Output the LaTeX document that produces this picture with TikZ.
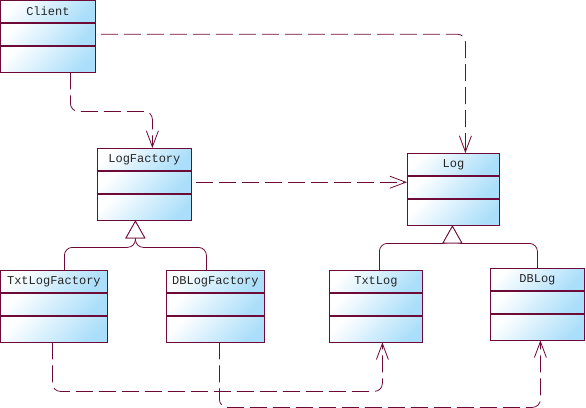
\documentclass[tikz,border=0pt]{standalone}
\usepackage{fontspec}
\setmonofont{Liberation Mono}
\usetikzlibrary{arrows.meta, positioning}

\definecolor{umlline}{RGB}{110,10,55}
\definecolor{umlblue}{RGB}{170,222,250}

\begin{document}
\begin{tikzpicture}[
    x=1pt, y=1pt,
    font=\ttfamily\fontsize{12}{14}\selectfont,
    line width=0.8pt,
    classhead/.style={rectangle, draw=umlline, left color=white, right color=umlblue, shading angle=45, minimum height=22pt, inner sep=0pt, anchor=north west, text=black!85},
    classpart/.style={rectangle, draw=umlline, left color=white, right color=umlblue, shading angle=45, minimum height=22pt, inner sep=0pt},
    depend/.style={draw=umlline, dash pattern=on 17pt off 6pt, rounded corners=8pt, -{Straight Barb[length=16pt,width=12pt]}},
    realize/.style={draw=umlline, rounded corners=8pt, -{Triangle[open,length=18pt,width=20pt,fill=white]}}
]
    \useasboundingbox (0,0) rectangle (586,-407);

    % classes
    \node[classhead, minimum width=95pt] (client) at (0,0) {Client};
    \node[classpart, minimum width=95pt, below=0pt of client] (client-a) {};
    \node[classpart, minimum width=95pt, minimum height=26pt, below=0pt of client-a] (client-b) {};

    \node[classhead, minimum width=94pt] (logfac) at (97,-148) {LogFactory};
    \node[classpart, minimum width=94pt, below=0pt of logfac] (logfac-a) {};
    \node[classpart, minimum width=94pt, minimum height=26pt, below=0pt of logfac-a] (logfac-b) {};

    \node[classhead, minimum width=92pt] (log) at (407,-153) {Log};
    \node[classpart, minimum width=92pt, below=0pt of log] (log-a) {};
    \node[classpart, minimum width=92pt, minimum height=26pt, below=0pt of log-a] (log-b) {};

    \node[classhead, minimum width=107pt] (txtfac) at (0,-270) {TxtLogFactory};
    \node[classpart, minimum width=107pt, below=0pt of txtfac] (txtfac-a) {};
    \node[classpart, minimum width=107pt, minimum height=26pt, below=0pt of txtfac-a] (txtfac-b) {};

    \node[classhead, minimum width=98pt] (dbfac) at (166,-270) {DBLogFactory};
    \node[classpart, minimum width=98pt, below=0pt of dbfac] (dbfac-a) {};
    \node[classpart, minimum width=98pt, minimum height=26pt, below=0pt of dbfac-a] (dbfac-b) {};

    \node[classhead, minimum width=93pt] (txtlog) at (329,-270) {TxtLog};
    \node[classpart, minimum width=93pt, below=0pt of txtlog] (txtlog-a) {};
    \node[classpart, minimum width=93pt, minimum height=26pt, below=0pt of txtlog-a] (txtlog-b) {};

    \node[classhead, minimum width=94pt] (dblog) at (490,-268) {DBLog};
    \node[classpart, minimum width=94pt, below=0pt of dblog] (dblog-a) {};
    \node[classpart, minimum width=94pt, minimum height=26pt, below=0pt of dblog-a] (dblog-b) {};

    % dependencies
    \draw[depend] ([xshift=5pt]client-a.east) -| ([xshift=12pt]log.north);
    \draw[depend] ([xshift=22.5pt]client-b.south) -- ++(0,-39) -| ([xshift=8pt]logfac.north);
    \draw[depend] ([xshift=4pt]logfac-a.east) -- (logfac-a.east -| log.west);
    \draw[depend] ([xshift=-1.5pt]txtfac-b.south) -- ++(0,-49) -| ([xshift=6.5pt]txtlog-b.south);
    \draw[depend] ([xshift=4pt]dbfac-b.south) -- ++(0,-65) -| ([xshift=3pt]dblog-b.south);

    % generalisations
    \draw[realize] ([xshift=10.5pt]txtfac.north) |- ([xshift=-9pt,yshift=-27pt]logfac-b.south) -- ([xshift=-9pt]logfac-b.south);
    \draw[realize] ([xshift=-9pt]dbfac.north) |- ([xshift=-9pt,yshift=-27pt]logfac-b.south) -- ([xshift=-9pt]logfac-b.south);
    \draw[realize] ([xshift=3.5pt]txtlog.north) |- ([xshift=-1pt,yshift=-18pt]log-b.south) -- ([xshift=-1pt]log-b.south);
    \draw[realize] (dblog.north) |- ([xshift=-1pt,yshift=-18pt]log-b.south) -- ([xshift=-1pt]log-b.south);
\end{tikzpicture}
\end{document}
